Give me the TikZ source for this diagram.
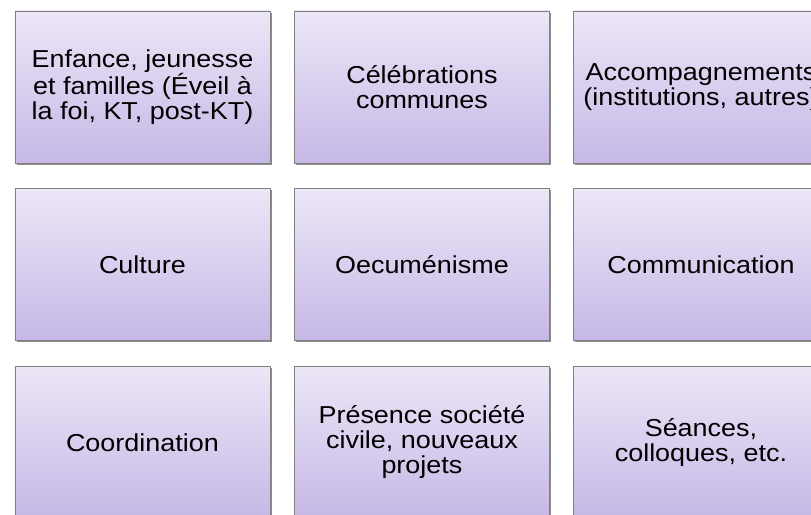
\documentclass[tikz,border=0pt]{standalone}
\usepackage{fontspec}
\setmainfont[FakeStretch=1.1]{Liberation Sans}
\usetikzlibrary{shadows}
\definecolor{boxtop}{RGB}{236,230,247}
\definecolor{boxbot}{RGB}{198,184,230}
\definecolor{boxedge}{RGB}{128,128,128}
\tikzset{
  cell/.style={draw=boxedge, line width=0.9pt, top color=boxtop, bottom color=boxbot,
    minimum width=255pt, minimum height=152pt, anchor=north west, inner sep=0pt,
    align=center, font=\fontsize{24.5pt}{25pt}\selectfont, text=black,
    drop shadow={shadow xshift=1.6pt, shadow yshift=-1.6pt, opacity=0.45, fill=black}}
}
\begin{document}
\begin{tikzpicture}[x=1pt,y=-1pt]
\useasboundingbox (0,0) rectangle (811,514);
\clip (0,0) rectangle (811,514);
\node[cell] (a1) at (14.5,10.5) {Enfance, jeunesse\\et familles (Éveil à\\la foi, KT, post-KT)};
\node[cell] (a2) at (294,10.5) {Célébrations\\communes};
\node[cell] (a3) at (573,10.5) {Accompagnements\\(institutions, autres)};
\node[cell] (b1) at (14.5,188) {Culture};
\node[cell] (b2) at (294,188) {Oecuménisme};
\node[cell] (b3) at (573,188) {Communication};
\node[cell] (c1) at (14.5,366) {Coordination};
\node[cell] (c2) at (294,366) {Présence société\\civile, nouveaux\\projets};
\node[cell] (c3) at (573,366) {Séances,\\colloques, etc.};
\end{tikzpicture}
\end{document}
